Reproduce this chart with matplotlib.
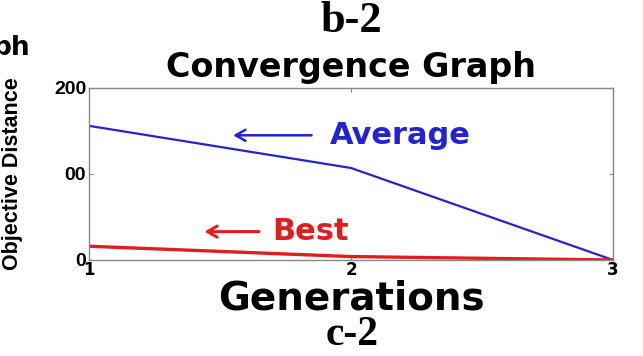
import matplotlib
matplotlib.use("Agg")
import matplotlib.pyplot as plt

# values
generations = [1, 2, 3]
average_dist = [156, 107, 0]
best_dist = [16, 4, 0]
y_ticks = [0, 100, 200]
y_tick_labels = ["0", "00", "200"]
x_ticks = [1, 2, 3]

BLUE = "#2323d6"
RED = "#e01e1e"
ARIAL = "Liberation Sans"

fig = plt.figure(figsize=(6.43, 3.56), dpi=100)
ax = fig.add_axes([89 / 643, 96 / 356, 524 / 643, 172 / 356])

ax.plot(generations, average_dist, color=BLUE, lw=1.6)
ax.plot(generations, best_dist, color=RED, lw=2.4)

ax.set_xlim(1, 3)
ax.set_ylim(0, 200)
ax.set_xticks(x_ticks)
ax.set_xticklabels([str(t) for t in x_ticks], fontsize=12, fontweight="bold")
ax.set_yticks(y_ticks)
ax.set_yticklabels(y_tick_labels, fontsize=14, fontweight="bold", family=ARIAL)
ax.tick_params(direction="in", length=3, top=True, right=True, color="#888888")
ax.tick_params(axis="x", pad=1)
ax.tick_params(axis="y", pad=2)
for sp in ax.spines.values():
    sp.set_color("#888888")
    sp.set_linewidth(1.0)

# arrows + labels
ax.annotate("", xy=(1.54, 145), xytext=(1.86, 145),
            arrowprops=dict(arrowstyle="->,head_length=0.7,head_width=0.4", color=BLUE, lw=1.8))
ax.text(1.92, 145, "Average", color=BLUE, fontsize=22, fontweight="bold",
        ha="left", va="center")
ax.annotate("", xy=(1.43, 33), xytext=(1.66, 33),
            arrowprops=dict(arrowstyle="->,head_length=0.7,head_width=0.4", color=RED, lw=2.2))
ax.text(1.70, 33, "Best", color=RED, fontsize=22, fontweight="bold",
        ha="left", va="center")

ax.set_xlabel("Generations", fontsize=28, fontweight="bold", labelpad=0)
ax.set_ylabel("Objective Distance", fontsize=15.5, fontweight="bold", family=ARIAL)
ax.yaxis.set_label_coords(-0.125, 0.5)
ax.set_title("Convergence Graph", fontsize=24, fontweight="bold", pad=8)

fig.text(0.547, 0.94, "b-2", fontsize=32, fontweight="bold", family="Liberation Serif",
         ha="center", va="center")
fig.text(0.547, 0.06, "c-2", fontsize=30, fontweight="bold", family="Liberation Serif",
         ha="center", va="center")
fig.text(-0.012, 0.865, "ph", fontsize=19, fontweight="bold", ha="left", va="center")

fig.savefig("out.png", dpi=100)
plt.close(fig)
